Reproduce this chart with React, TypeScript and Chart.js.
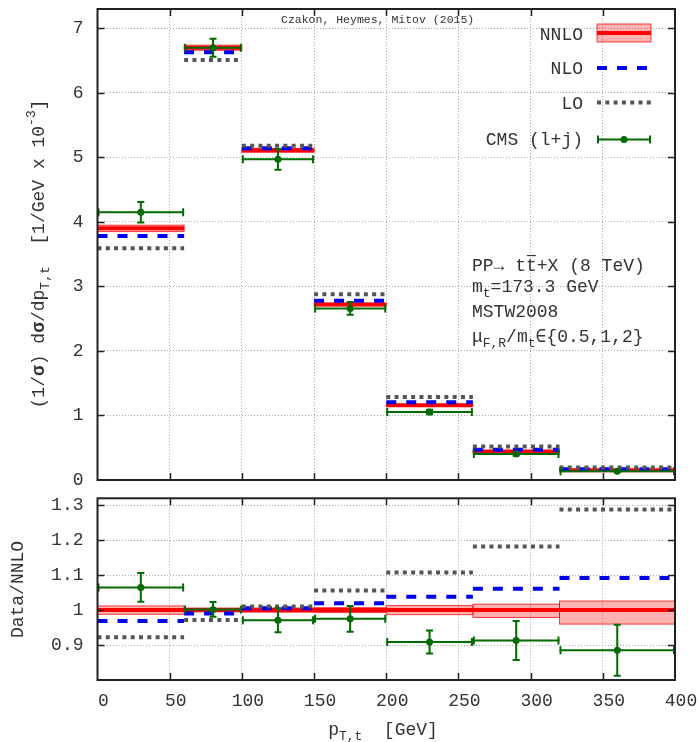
import React, { useEffect, useRef } from 'react';
import { Chart, registerables } from 'chart.js';

Chart.register(...registerables);

// ---- data -------------------------------------------------------------
const binEdges = [0, 60, 100, 150, 200, 260, 320, 400];
const binCenters = [30, 80, 125, 175, 230, 290, 360];
const xTicks = [0, 50, 100, 150, 200, 250, 300, 350, 400];

// normalized distribution, units of 1/GeV x 10^-3
const distTicks = [0, 1, 2, 3, 4, 5, 6, 7];
const nnloDist = [3.9, 6.7, 5.11, 2.72, 1.16, 0.44, 0.152];
const nnloDistLow = [3.85, 6.66, 5.08, 2.7, 1.145, 0.43, 0.146];
const nnloDistHigh = [3.95, 6.74, 5.14, 2.74, 1.175, 0.448, 0.157];
const nloDist = [3.78, 6.63, 5.14, 2.78, 1.205, 0.467, 0.166];
const loDist = [3.59, 6.51, 5.18, 2.88, 1.285, 0.52, 0.195];
const cmsDist = [4.15, 6.7, 4.97, 2.66, 1.055, 0.403, 0.134];
const cmsDistErr = [0.16, 0.14, 0.16, 0.1, 0.035, 0.024, 0.011];

// ratio to NNLO
const ratioTicks = [0.9, 1, 1.1, 1.2, 1.3];
const nnloRatio = [1, 1, 1, 1, 1, 1, 1];
const nnloRatioLow = [0.988, 0.995, 0.994, 0.993, 0.987, 0.979, 0.96];
const nnloRatioHigh = [1.012, 1.006, 1.006, 1.007, 1.013, 1.017, 1.026];
const nloRatio = [0.969, 0.99, 1.005, 1.02, 1.038, 1.061, 1.092];
const loRatio = [0.922, 0.972, 1.01, 1.056, 1.108, 1.182, 1.288];
const cmsRatio = [1.065, 1.002, 0.971, 0.975, 0.909, 0.913, 0.885];
const cmsRatioErr = [0.041, 0.021, 0.034, 0.037, 0.033, 0.056, 0.073];

// ---- styling ----------------------------------------------------------
const MONO = "'Liberation Mono', 'DejaVu Sans Mono', monospace";
const TEXT = '#333333';
const GRID = '#a8a8a8';
const RED = '#ff0000';
const BAND = 'rgba(255, 0, 0, 0.3)';
const BLUE = '#0000ee';
const GRAY = '#555555';
const GREEN = '#006b00';
const FONT = 18;
const NLO_DASH = [10, 10];
const LO_DASH = [4, 4.3];

type Part = { t: string; sub?: boolean; sup?: boolean; bold?: boolean; over?: boolean };

function drawRich(
  ctx: CanvasRenderingContext2D,
  parts: (Part | string)[],
  x: number,
  y: number,
  size: number,
  align: 'left' | 'center' | 'right',
  rotate = false,
) {
  const ps: Part[] = parts.map((p) => (typeof p === 'string' ? { t: p } : p));
  const fontOf = (p: Part) =>
    `${p.bold ? 'bold ' : ''}${p.sub || p.sup ? size * 0.72 : size}px ${MONO}`;
  let total = 0;
  const widths = ps.map((p) => {
    ctx.font = fontOf(p);
    const w = ctx.measureText(p.t).width;
    total += w;
    return w;
  });
  ctx.save();
  ctx.translate(x, y);
  if (rotate) ctx.rotate(-Math.PI / 2);
  let cx = align === 'left' ? 0 : align === 'center' ? -total / 2 : -total;
  ctx.fillStyle = TEXT;
  ctx.strokeStyle = TEXT;
  ctx.textAlign = 'left';
  ctx.textBaseline = 'middle';
  ps.forEach((p, i) => {
    ctx.font = fontOf(p);
    const dy = p.sub ? size * 0.36 : p.sup ? -size * 0.42 : 0;
    ctx.fillText(p.t, cx, dy);
    if (p.over) {
      ctx.lineWidth = 1.2;
      ctx.beginPath();
      ctx.moveTo(cx + 1, -size * 0.58);
      ctx.lineTo(cx + widths[i] - 1, -size * 0.58);
      ctx.stroke();
    }
    cx += widths[i];
  });
  ctx.restore();
}

function stepLine(vals: number[]) {
  const pts: { x: number; y: number | null }[] = [];
  vals.forEach((v, i) => {
    pts.push({ x: binEdges[i], y: v }, { x: binEdges[i + 1], y: v });
    if (i < vals.length - 1) pts.push({ x: binEdges[i + 1], y: null });
  });
  return pts;
}

const fmt = (v: number) => String(parseFloat(Number(v).toFixed(2)));

interface Panel {
  yMin: number;
  yMax: number;
  yTicks: number[];
  showX: boolean;
  padTop: number;
  xHeight: number;
  nnlo: number[];
  nnloLow: number[];
  nnloHigh: number[];
  nlo: number[];
  lo: number[];
  cms: number[];
  cmsErr: number[];
  decorate: (ctx: CanvasRenderingContext2D) => void;
}

function makeChart(canvas: HTMLCanvasElement, p: Panel) {
  const binPlugin = {
    id: 'bins',
    beforeDatasetsDraw(chart: any) {
      const { ctx, scales } = chart;
      const xs = scales.x;
      const ys = scales.y;
      ctx.save();
      p.nnlo.forEach((_, i) => {
        const x0 = xs.getPixelForValue(binEdges[i]);
        const x1 = xs.getPixelForValue(binEdges[i + 1]);
        const y0 = ys.getPixelForValue(p.nnloHigh[i]);
        const y1 = ys.getPixelForValue(p.nnloLow[i]);
        ctx.fillStyle = BAND;
        ctx.fillRect(x0, y0, x1 - x0, y1 - y0);
        ctx.strokeStyle = 'rgba(255,0,0,0.75)';
        ctx.lineWidth = 1;
        ctx.strokeRect(x0, y0, x1 - x0, y1 - y0);
      });
      ctx.restore();
    },
    afterDatasetsDraw(chart: any) {
      const { ctx, scales, chartArea: a } = chart;
      const xs = scales.x;
      const ys = scales.y;
      ctx.save();
      // data error bars
      ctx.strokeStyle = GREEN;
      ctx.lineWidth = 2;
      ctx.beginPath();
      p.cms.forEach((v, i) => {
        const xc = xs.getPixelForValue(binCenters[i]);
        const yc = ys.getPixelForValue(v);
        const yt = ys.getPixelForValue(v + p.cmsErr[i]);
        const yb = ys.getPixelForValue(v - p.cmsErr[i]);
        const x0 = xs.getPixelForValue(binEdges[i]);
        const x1 = xs.getPixelForValue(binEdges[i + 1]);
        ctx.moveTo(xc, yt);
        ctx.lineTo(xc, yb);
        ctx.moveTo(xc - 3.5, yt);
        ctx.lineTo(xc + 3.5, yt);
        ctx.moveTo(xc - 3.5, yb);
        ctx.lineTo(xc + 3.5, yb);
        ctx.moveTo(x0 + 1, yc - 4);
        ctx.lineTo(x0 + 1, yc + 4);
        ctx.moveTo(x1 - 1, yc - 4);
        ctx.lineTo(x1 - 1, yc + 4);
      });
      ctx.stroke();

      // inward ticks on all four sides
      ctx.strokeStyle = '#222';
      ctx.lineWidth = 1.5;
      const T = 7;
      ctx.beginPath();
      xs.ticks.forEach((t: any) => {
        if (t.value <= xs.min || t.value >= xs.max) return;
        const px = Math.round(xs.getPixelForValue(t.value)) + 0.5;
        ctx.moveTo(px, a.bottom);
        ctx.lineTo(px, a.bottom - T);
        ctx.moveTo(px, a.top);
        ctx.lineTo(px, a.top + T);
      });
      ys.ticks.forEach((t: any) => {
        if (t.value <= ys.min || t.value >= ys.max) return;
        const py = Math.round(ys.getPixelForValue(t.value)) + 0.5;
        ctx.moveTo(a.left, py);
        ctx.lineTo(a.left + T, py);
        ctx.moveTo(a.right, py);
        ctx.lineTo(a.right - T, py);
      });
      ctx.stroke();
      // frame
      ctx.lineWidth = 2;
      ctx.strokeStyle = '#222';
      ctx.strokeRect(a.left, a.top, a.right - a.left, a.bottom - a.top);
      ctx.restore();
    },
    afterDraw(chart: any) {
      p.decorate(chart.ctx);
    },
  };

  const axisFont = { family: MONO, size: FONT };

  return new Chart(canvas, {
    type: 'line',
    plugins: [binPlugin],
    data: {
      datasets: [
        {
          data: binCenters.map((x, i) => ({ x, y: p.cms[i] })),
          showLine: false,
          pointRadius: 3.5,
          pointBackgroundColor: GREEN,
          pointBorderColor: GREEN,
          pointBorderWidth: 0,
          order: 0,
        },
        {
          data: stepLine(p.cms),
          borderColor: GREEN,
          borderWidth: 2,
          pointRadius: 0,
          order: 1,
        },
        {
          data: stepLine(p.lo),
          borderColor: GRAY,
          borderWidth: 4,
          borderDash: LO_DASH,
          borderCapStyle: 'butt',
          pointRadius: 0,
          order: 2,
        },
        {
          data: stepLine(p.nlo),
          borderColor: BLUE,
          borderWidth: 4,
          borderDash: NLO_DASH,
          borderCapStyle: 'butt',
          pointRadius: 0,
          order: 3,
        },
        {
          data: stepLine(p.nnlo),
          borderColor: RED,
          borderWidth: 4,
          pointRadius: 0,
          order: 4,
        },
      ] as any,
    },
    options: {
      animation: false,
      responsive: false,
      maintainAspectRatio: false,
      events: [],
      layout: { padding: { top: p.padTop, right: 23, left: 0, bottom: 0 } },
      plugins: { legend: { display: false }, tooltip: { enabled: false } },
      scales: {
        x: {
          type: 'linear',
          min: 0,
          max: 400,
          afterBuildTicks: (s: any) => {
            s.ticks = xTicks.map((v) => ({ value: v }));
          },
          ticks: {
            display: p.showX,
            font: axisFont,
            color: TEXT,
            padding: 10,
            labelOffset: 6,
            maxRotation: 0,
            autoSkip: false,
            callback: (v: any) => fmt(v),
          },
          grid: { color: GRID, lineWidth: 1, drawTicks: false },
          border: { display: false, dash: [1, 2] },
          afterFit: (s: any) => {
            s.height = p.xHeight;
            s.paddingLeft = 0;
            s.paddingRight = 0;
          },
        },
        y: {
          type: 'linear',
          min: p.yMin,
          max: p.yMax,
          afterBuildTicks: (s: any) => {
            s.ticks = p.yTicks.map((v) => ({ value: v }));
          },
          ticks: {
            font: axisFont,
            color: TEXT,
            padding: 14,
            autoSkip: false,
            callback: (v: any) => fmt(v),
          },
          grid: { color: GRID, lineWidth: 1, drawTicks: false },
          border: { display: false, dash: [1, 2] },
          afterFit: (s: any) => {
            s.width = 97.5;
            s.paddingTop = 0;
            s.paddingBottom = 0;
          },
        },
      },
    } as any,
  });
}

// ---- decorations ------------------------------------------------------
function drawTopDecor(ctx: CanvasRenderingContext2D) {
  ctx.save();
  // reference line
  ctx.font = `11.5px ${MONO}`;
  ctx.fillStyle = TEXT;
  ctx.textAlign = 'left';
  ctx.textBaseline = 'middle';
  ctx.fillText('Czakon, Heymes, Mitov (2015)', 281, 19.5);

  // legend
  const lx0 = 597;
  const lx1 = 651;
  const tx = 583;
  ctx.font = `${FONT}px ${MONO}`;
  ctx.textAlign = 'right';
  ctx.fillStyle = TEXT;
  ctx.fillText('NNLO', tx, 35);
  ctx.fillText('NLO', tx, 69);
  ctx.fillText('LO', tx, 104);
  ctx.fillText('CMS (l+j)', tx, 140);

  ctx.fillStyle = BAND;
  ctx.fillRect(lx0, 24, lx1 - lx0, 18);
  ctx.strokeStyle = 'rgba(255,0,0,0.75)';
  ctx.lineWidth = 1;
  ctx.strokeRect(lx0, 24, lx1 - lx0, 18);
  ctx.strokeStyle = RED;
  ctx.lineWidth = 4;
  ctx.beginPath();
  ctx.moveTo(lx0, 33);
  ctx.lineTo(lx1, 33);
  ctx.stroke();

  ctx.strokeStyle = BLUE;
  ctx.setLineDash(NLO_DASH);
  ctx.beginPath();
  ctx.moveTo(lx0, 68);
  ctx.lineTo(lx1, 68);
  ctx.stroke();

  ctx.strokeStyle = GRAY;
  ctx.setLineDash(LO_DASH);
  ctx.beginPath();
  ctx.moveTo(lx0, 102.5);
  ctx.lineTo(lx1, 102.5);
  ctx.stroke();
  ctx.setLineDash([]);

  ctx.strokeStyle = GREEN;
  ctx.lineWidth = 2;
  ctx.beginPath();
  ctx.moveTo(lx0, 139.5);
  ctx.lineTo(lx1, 139.5);
  ctx.moveTo(lx0 + 1, 135.5);
  ctx.lineTo(lx0 + 1, 143.5);
  ctx.moveTo(lx1 - 1, 135.5);
  ctx.lineTo(lx1 - 1, 143.5);
  ctx.stroke();
  ctx.fillStyle = GREEN;
  ctx.beginPath();
  ctx.arc((lx0 + lx1) / 2, 139.5, 3.5, 0, Math.PI * 2);
  ctx.fill();
  ctx.restore();

  // process / setup block
  const bx = 472;
  drawRich(ctx, ['PP\u2192 t', { t: 't', over: true }, '+X (8 TeV)'], bx, 266, FONT, 'left');
  drawRich(ctx, ['m', { t: 't', sub: true }, '=173.3 GeV'], bx, 287, FONT, 'left');
  drawRich(ctx, ['MSTW2008'], bx, 312, FONT, 'left');
  drawRich(
    ctx,
    ['\u03bc', { t: 'F,R', sub: true }, '/m', { t: 't', sub: true }, '\u2208{0.5,1,2}'],
    bx,
    337,
    FONT,
    'left',
  );

  // y-axis title
  drawRich(
    ctx,
    [
      '(1/',
      { t: '\u03c3', bold: true },
      ') d',
      { t: '\u03c3', bold: true },
      '/dp',
      { t: 'T,t', sub: true },
      '  [1/GeV x 10',
      { t: '-3', sup: true },
      ']',
    ],
    39,
    254,
    FONT,
    'center',
    true,
  );
}

function drawBottomDecor(ctx: CanvasRenderingContext2D) {
  drawRich(ctx, ['Data/NNLO'], 18, 99.5, FONT, 'center', true);
  drawRich(ctx, ['p', { t: 'T,t', sub: true }, '  [GeV]'], 383, 240, FONT, 'center');
}

export default function App() {
  const topRef = useRef<HTMLCanvasElement>(null);
  const bottomRef = useRef<HTMLCanvasElement>(null);

  useEffect(() => {
    if (!topRef.current || !bottomRef.current) return;
    const top = makeChart(topRef.current, {
      yMin: 0,
      yMax: 7.3,
      yTicks: distTicks,
      showX: false,
      padTop: 9,
      xHeight: 10,
      nnlo: nnloDist,
      nnloLow: nnloDistLow,
      nnloHigh: nnloDistHigh,
      nlo: nloDist,
      lo: loDist,
      cms: cmsDist,
      cmsErr: cmsDistErr,
      decorate: drawTopDecor,
    });
    const bottom = makeChart(bottomRef.current, {
      yMin: 0.8,
      yMax: 1.32,
      yTicks: ratioTicks,
      showX: true,
      padTop: 8.3,
      xHeight: 62,
      nnlo: nnloRatio,
      nnloLow: nnloRatioLow,
      nnloHigh: nnloRatioHigh,
      nlo: nloRatio,
      lo: loRatio,
      cms: cmsRatio,
      cmsErr: cmsRatioErr,
      decorate: drawBottomDecor,
    });
    return () => {
      top.destroy();
      bottom.destroy();
    };
  }, []);

  return (
    <div
      style={{
        position: 'absolute',
        left: 0,
        top: 0,
        width: 698,
        height: 742,
        background: '#ffffff',
        overflow: 'hidden',
      }}
    >
      <canvas
        ref={topRef}
        width={698}
        height={490}
        style={{ position: 'absolute', left: 0, top: 0, display: 'block' }}
      />
      <canvas
        ref={bottomRef}
        width={698}
        height={252}
        style={{ position: 'absolute', left: 0, top: 490, display: 'block' }}
      />
    </div>
  );
}
